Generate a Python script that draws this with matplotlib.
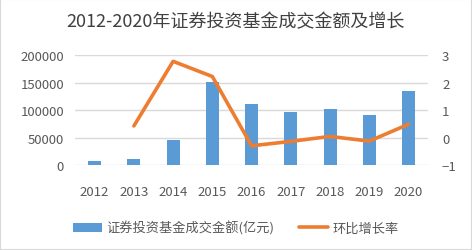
import matplotlib.pyplot as plt
from matplotlib.patches import Rectangle

plt.rcParams['font.family'] = ['Noto Sans CJK SC', 'DejaVu Sans']

years = ['2012', '2013', '2014', '2015', '2016', '2017', '2018', '2019', '2020']
volume = [7800, 12000, 46400, 151600, 111000, 97200, 102000, 91200, 135300]   # 亿元
growth = [None, 0.43, 2.77, 2.22, -0.29, -0.13, 0.05, -0.12, 0.49]

blue = '#5B9BD5'
orange = '#ED7D31'
grid_c = '#D9D9D9'
text_c = '#595959'

fig = plt.figure(figsize=(4.72, 2.51), dpi=100)
fig.patches.append(Rectangle((0, 0), 1, 1, transform=fig.transFigure,
                             fill=False, edgecolor='#D9D9D9', lw=1.5))

ax = fig.add_axes([0.159, 0.337, 0.748, 0.44])
x = list(range(len(years)))
ax.bar(x, volume, width=0.33, color=blue, zorder=2, label='证券投资基金成交金额(亿元)')
ax.set_xlim(-0.5, len(years) - 0.5)
ax.set_ylim(0, 200000)
ax.set_yticks([0, 50000, 100000, 150000, 200000])
ax.set_xticks(x)
ax.set_xticklabels(years)
ax.yaxis.grid(True, color=grid_c, lw=1, zorder=0)
for s in ax.spines.values():
    s.set_visible(False)
ax.tick_params(length=0, labelsize=9.5, colors=text_c, pad=8)
ax.tick_params(axis='x', pad=14)

ax2 = ax.twinx()
gx = [i for i, g in zip(x, growth) if g is not None]
gy = [g for g in growth if g is not None]
ax2.plot(gx, gy, color=orange, lw=2.6, solid_capstyle='round', zorder=3, label='环比增长率')
ax2.set_ylim(-1, 3)
ax2.set_yticks([-1, 0, 1, 2, 3])
for s in ax2.spines.values():
    s.set_visible(False)
ax2.tick_params(length=0, labelsize=9.5, colors=text_c, pad=10)

fig.text(0.5, 0.912, '2012-2020年证券投资基金成交金额及增长', ha='center', va='center',
         fontsize=13, color='#404040')

h1, l1 = ax.get_legend_handles_labels()
h2, l2 = ax2.get_legend_handles_labels()
fig.legend(h1 + h2, l1 + l2, loc='center', bbox_to_anchor=(0.5, 0.088), ncol=2,
           frameon=False, fontsize=9.5, handlelength=2.2, columnspacing=1.9,
           handletextpad=0.3, labelcolor=text_c)

fig.savefig('out.png', dpi=100)
